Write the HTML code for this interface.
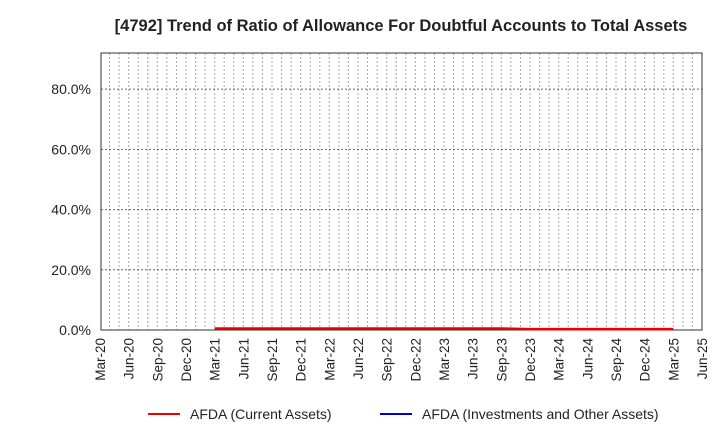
<!DOCTYPE html>
<html><head><meta charset="utf-8"><style>
body{margin:0;background:#fff;font-family:"Liberation Sans",Arial,sans-serif;}
</style></head><body>
<svg id="chart" width="720" height="440" xmlns="http://www.w3.org/2000/svg">
<text x="401" y="31" text-anchor="middle" font-size="16.5" font-weight="bold" fill="#222">[4792]  Trend of Ratio of Allowance For Doubtful Accounts to Total Assets</text>
<g id="grid"></g><g id="axes"></g><g id="series"></g>
<g>
<line x1="148" y1="414" x2="180" y2="414" stroke="#e00" stroke-width="2"/>
<text x="190" y="419" font-size="14" fill="#222">AFDA (Current Assets)</text>
<line x1="380" y1="414" x2="412" y2="414" stroke="#00c" stroke-width="2"/>
<text x="422" y="419" font-size="14" fill="#222">AFDA (Investments and Other Assets)</text>
</g>
</svg>
<script>
const xTickLabels=["Mar-20","Jun-20","Sep-20","Dec-20","Mar-21","Jun-21","Sep-21","Dec-21","Mar-22","Jun-22","Sep-22","Dec-22","Mar-23","Jun-23","Sep-23","Dec-23","Mar-24","Jun-24","Sep-24","Dec-24","Mar-25","Jun-25"];
const yTicks=[0,20,40,60,80];
const currentDates=["Mar-21","Jun-21","Sep-21","Dec-21","Mar-22","Jun-22","Sep-22","Dec-22","Mar-23","Jun-23","Sep-23","Dec-23","Mar-24","Jun-24","Sep-24","Dec-24","Mar-25"];
const currentValues=[0.5,0.5,0.5,0.5,0.5,0.5,0.5,0.5,0.5,0.5,0.5,0.3,0.3,0.3,0.3,0.3,0.3];
const investDates=[];
const investValues=[];
const L=101,R=702,T=53,B=330,YMAX=92;
const M0=100,MS=(702-100)/63;
const mon={Mar:0,Jun:3,Sep:6,Dec:9};
function mIdx(s){const [m,y]=s.split('-');return (+y-20)*12+mon[m];}
function x(s){return M0+mIdx(s)*MS;}
function xm(i){return M0+i*MS;}
function y(v){return B-(v/YMAX)*(B-T);}
const NS="http://www.w3.org/2000/svg";
function mk(t,a,p){const e=document.createElementNS(NS,t);for(const k in a)e.setAttribute(k,a[k]);p.appendChild(e);return e;}
const grid=document.getElementById('grid'),axes=document.getElementById('axes'),ser=document.getElementById('series');
for(let i=1;i<63;i++){const g=mk('line',{x1:xm(i),x2:xm(i),y1:T,y2:B,stroke:'#aaa','stroke-width':1,'stroke-dasharray':'2,2'},grid);

}
yTicks.forEach(v=>{if(v>0){const g=mk('line',{x1:L,x2:R,y1:y(v),y2:y(v),stroke:'#666','stroke-width':1,'stroke-dasharray':'2,2'},grid);

}
const t=mk('text',{x:L-10,y:y(v)+5,'text-anchor':'end','font-size':14,fill:'#222'},axes);t.textContent=v.toFixed(1)+'%';

});
const fr=mk('rect',{x:L,y:T,width:R-L,height:B-T,fill:'none',stroke:'#333','stroke-width':1},axes);


xTickLabels.forEach(s=>{const xx=x(s);const t=mk('text',{x:0,y:0,'text-anchor':'end','font-size':13.5,fill:'#222',transform:`translate(${xx+5},${B+8}) rotate(-90)`},axes);t.textContent=s;

});
function line(d,v,c,n){if(!d.length)return;const p=mk('polyline',{points:d.map((s,i)=>x(s)+','+y(v[i])).join(' '),fill:'none',stroke:c,'stroke-width':2.5},ser);

}
line(currentDates,currentValues,'#e00','afda-current-line');
line(investDates,investValues,'#00c','afda-investments-line');
</script>
</body></html>
